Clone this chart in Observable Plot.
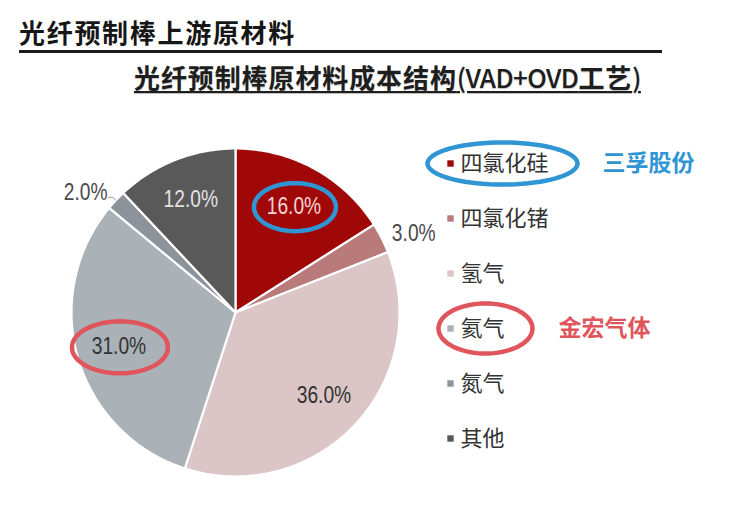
<!DOCTYPE html>
<html>
<head>
<meta charset="utf-8">
<script src="https://cdn.jsdelivr.net/npm/d3@7"></script>
<script src="https://cdn.jsdelivr.net/npm/@observablehq/plot@0.6"></script>
<style>
  html, body { margin: 0; padding: 0; background: #fff; }
  #page { position: relative; width: 736px; height: 505px; overflow: hidden; background: #fff; }
  .title {
    position: absolute; left: 19px; top: 17px;
    font: bold 26px "Noto Sans CJK SC", sans-serif; letter-spacing: 1.7px;
    line-height: 30px; color: #161616; white-space: nowrap;
  }
  .rule { position: absolute; left: 19px; top: 50px; width: 643px; height: 2.5px; background: #1b1b1b; }
  .subtitle {
    position: absolute; left: 134px; top: 62px;
    font: bold 26px "Noto Sans CJK SC", sans-serif; letter-spacing: 0.9px;
    line-height: 30px; color: #1e1e1e; white-space: nowrap;
    text-decoration: underline; text-decoration-thickness: 2px; text-underline-offset: 3px;
    text-shadow: 0 1px 1px rgba(0,0,0,0.25);
  }
  .subtitle .latin { letter-spacing: -0.6px; font-weight: 500; }
  #chart { position: absolute; left: 0; top: 100px; }
</style>
</head>
<body>
<div id="page">
  <div class="title">光纤预制棒上游原材料</div>
  <div class="rule"></div>
  <div class="subtitle">光纤预制棒原材料成本结构<span class="latin">(VAD+OVD</span>工艺<span class="latin">)</span></div>
  <div id="chart"></div>
</div>
<script>
// Raw materials and their share of preform material cost (%)
const names  = ["四氯化硅", "四氯化锗", "氢气", "氦气", "氮气", "其他"];
const shares = [16, 3, 36, 31, 2, 12];
const colors = ["#a00808", "#b97a7a", "#dcc5c6", "#aab1b7", "#8c939b", "#595959"];

// Suppliers called out next to the legend
const supplierOf   = ["四氯化硅", "氦气"];
const supplierName = ["三孚股份", "金宏气体"];
const supplierInk  = ["#2f95d3", "#e0555b"];

// Layout
const W = 736, H = 400;
const CX = 235, CY = 212, R = 164;
const LEGEND_X = 450, LEGEND_Y = 63, LEGEND_STEP = 55;

const total = d3.sum(shares);
let acc = 0;
const slices = names.map((name, i) => {
  const a0 = acc / total * 2 * Math.PI;
  acc += shares[i];
  const a1 = acc / total * 2 * Math.PI;
  return {name, value: shares[i], a0, a1, mid: (a0 + a1) / 2, i};
});
const pt = (a, r) => [CX + r * Math.sin(a), CY - r * Math.cos(a)];

// Slice outlines: centre + arc
const wedges = slices.flatMap(s => {
  const n = Math.max(2, Math.ceil((s.a1 - s.a0) / (Math.PI / 180)));
  const rows = [{name: s.name, x: CX, y: CY}];
  for (let k = 0; k <= n; ++k) {
    const [x, y] = pt(s.a0 + (s.a1 - s.a0) * k / n, R);
    rows.push({name: s.name, x, y});
  }
  return rows;
});

// Value labels: inside for large slices, outside for thin ones
const labels = slices.map(s => {
  const outside = s.value < 5;
  const [x, y] = pt(s.mid, outside ? 1.07 * R : 0.74 * R);
  const side = outside ? (Math.sin(s.mid) >= 0 ? "start" : "end") : "middle";
  return {...s, x, y, outside, side, text: s.value.toFixed(1) + "%"};
});
const labelInk = {"四氯化硅": "#f4d3d3", "其他": "#e2e2e2"};
const inkOf = d => labelInk[d.name] || (d.outside ? "#4a4a4a" : "#333");

// Leader for the smallest outside label on the left
const leaders = labels.filter(l => l.side === "end").flatMap(l => {
  const [ex, ey] = pt(l.mid, R);
  return [
    {id: l.name, x: l.x + 1, y: l.y + 5},
    {id: l.name, x: ex - 3, y: l.y + 5},
    {id: l.name, x: ex, y: ey}
  ];
});

const legend = names.map((name, i) => ({name, x: LEGEND_X, y: LEGEND_Y + i * LEGEND_STEP}));

// Highlight rings
function ring(id, cx, cy, rx, ry) {
  return d3.range(0, 72).map(k => {
    const t = k / 72 * 2 * Math.PI;
    return {id, x: cx + rx * Math.cos(t), y: cy + ry * Math.sin(t)};
  });
}
const rings = [];
supplierOf.forEach((name, j) => {
  const i = names.indexOf(name);
  const lab = labels[i], row = legend[i];
  const ink = supplierInk[j];
  rings.push({ink, pts: ring("p" + j, lab.x + 1, lab.y + 1, j === 0 ? 41 : 48, j === 0 ? 24 : 26)});
  rings.push({ink, pts: ring("l" + j, row.x + (j === 0 ? 52 : 35), row.y, j === 0 ? 75 : 47, j === 0 ? 21 : 25)});
});
const notes = supplierOf.map((name, j) => {
  const row = legend[names.indexOf(name)];
  return {text: supplierName[j], ink: supplierInk[j], x: row.x + (j === 0 ? 152 : 108), y: row.y};
});

const numFont = "'Liberation Sans', Arial, sans-serif";
const cjkFont = "'Noto Sans CJK SC', sans-serif";

const labelMark = anchor => Plot.text(labels.filter(l => l.side === anchor), {
  x: "x", y: "y", text: "text", textAnchor: anchor, fill: inkOf,
  fontFamily: numFont, fontSize: 24, ariaLabel: "value-label"
});

const plot = Plot.plot({
  width: W, height: H, margin: 0,
  x: {domain: [0, W], range: [0, W], axis: null},
  y: {domain: [0, H], range: [0, H], axis: null},
  color: {domain: names, range: colors},
  style: {background: "#fff", overflow: "visible"},
  marks: [
    Plot.line(wedges, {x: "x", y: "y", z: "name", fill: "name", stroke: "#fff",
      strokeWidth: 2.2, strokeLinejoin: "round", curve: "linear-closed"}),
    Plot.line(leaders, {x: "x", y: "y", z: "id", stroke: "#9a9a9a", strokeWidth: 1}),
    labelMark("middle"), labelMark("start"), labelMark("end"),
    Plot.dot(legend, {x: "x", y: "y", fill: "name", symbol: "square", r: 3.6}),
    Plot.text(legend, {x: d => d.x + 10, y: "y", text: "name", textAnchor: "start",
      fill: "#333", fontFamily: cjkFont, fontSize: 22}),
    Plot.text(notes, {x: "x", y: "y", text: "text", fill: d => d.ink, textAnchor: "start",
      fontFamily: cjkFont, fontSize: 23, fontWeight: "bold"}),
    ...rings.map(r => Plot.line(r.pts, {x: "x", y: "y", z: "id", stroke: r.ink,
      strokeWidth: 4.5, curve: "linear-closed"}))
  ]
});
document.getElementById("chart").appendChild(plot);

// Percent labels are set in a condensed face: squeeze each run horizontally
d3.select(plot).selectAll("text").each(function () {
  if (!/%$/.test(this.textContent)) return;
  const w = this.getComputedTextLength();
  this.setAttribute("textLength", (w * 0.8).toFixed(1));
  this.setAttribute("lengthAdjust", "spacingAndGlyphs");
});
</script>
</body>
</html>
